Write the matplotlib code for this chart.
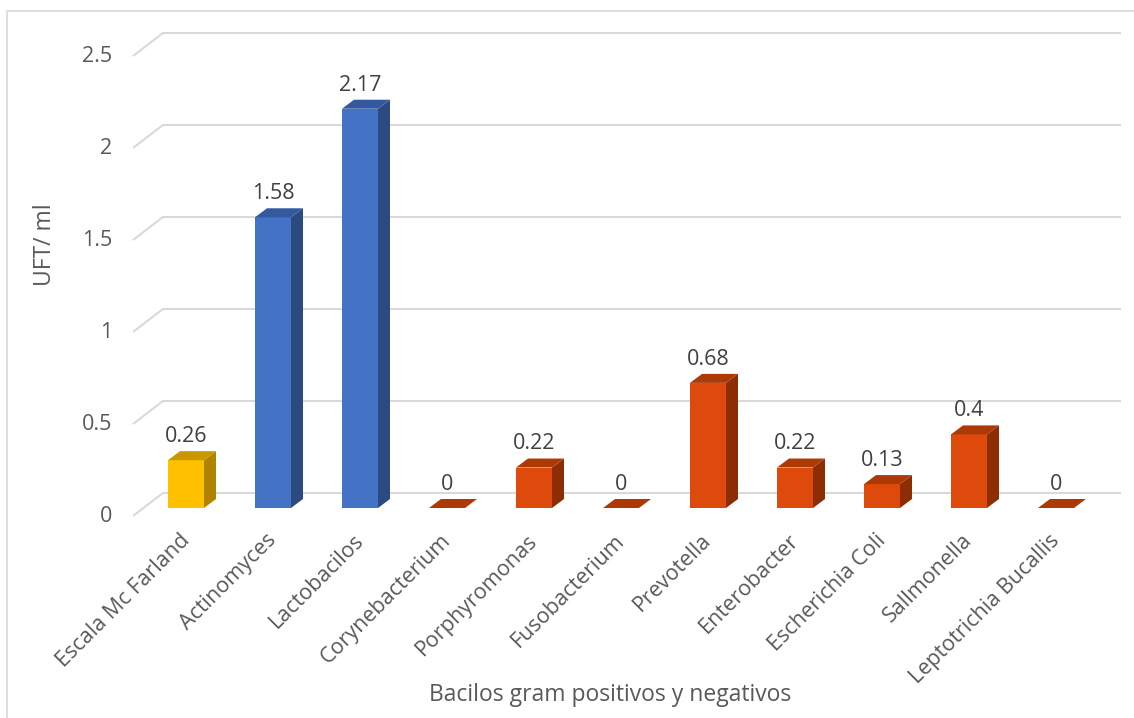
import matplotlib
matplotlib.use("Agg")
import matplotlib.pyplot as plt
from matplotlib.patches import Polygon, Rectangle

# ========================
# Data
# ========================
categories = ["Escala Mc Farland", "Actinomyces", "Lactobacilos", "Corynebacterium",
              "Porphyromonas", "Fusobacterium", "Prevotella", "Enterobacter",
              "Escherichia Coli", "Sallmonella", "Leptotrichia Bucallis"]
values = [0.26, 1.58, 2.17, 0, 0.22, 0, 0.68, 0.22, 0.13, 0.4, 0]
groups = ["ref", "pos", "pos", "neg", "neg", "neg", "neg", "neg", "neg", "neg", "neg"]
y_ticks = [0, 0.5, 1, 1.5, 2, 2.5]
y_tick_labels = ["0", "0.5", "1", "1.5", "2", "2.5"]

# front, side, top colours per group
COLORS = {
    "ref": ("#FFC000", "#B08400", "#C99700"),
    "pos": ("#4472C4", "#2B4A82", "#34599E"),
    "neg": ("#DE4A0B", "#8C2D03", "#AD3A06"),
}

# ========================
# Geometry (pixel -> data)
# ========================
W, H = 1134, 718
PX_X = 87.0    # pixels per category
PX_Y = 184.0   # pixels per unit
X0 = 186.0     # pixel x of first category
Y0 = 508.0     # pixel y (from top) of bar baseline

BAR_W = 36 / PX_X
DX = 12 / PX_X     # depth offset in x
DY = 9 / PX_Y      # depth offset in y
GRID_BACK_X = (163 - X0) / PX_X
GRID_FRONT_X = (133 - X0) / PX_X
GRID_RIGHT_X = (1121 - X0) / PX_X
GRID_BACK_DY = 15 / PX_Y
GRID_FRONT_DY = -8 / PX_Y

TEXT_C = "#595959"
GRID_C = "#D9D9D9"
FONT = "Open Sans"
FS = 15.5

fig = plt.figure(figsize=(W / 100, H / 100), dpi=100)
ax = fig.add_axes([0, 0, 1, 1])
ax.set_xlim(-X0 / PX_X, (W - X0) / PX_X)
ax.set_ylim(-(H - Y0) / PX_Y, Y0 / PX_Y)
ax.axis("off")

# chart border
fig.patches.append(Rectangle((7 / W, -0.01), 1.05, 1 - 11 / H + 0.01, transform=fig.transFigure,
                             fill=False, edgecolor="#D9D9D9", linewidth=1.2))

# gridlines: back wall + side diagonal
for v in y_ticks:
    ax.plot([GRID_FRONT_X, GRID_BACK_X, GRID_RIGHT_X],
            [v + GRID_FRONT_DY, v + GRID_BACK_DY, v + GRID_BACK_DY],
            color=GRID_C, linewidth=1.5, zorder=1, solid_capstyle="butt")

for v, lab in zip(y_ticks, y_tick_labels):
    ax.text((112 - X0) / PX_X, v + GRID_FRONT_DY, lab, ha="right", va="center",
            fontsize=FS, color=TEXT_C, family=FONT)

# bars
for i, (v, g) in enumerate(zip(values, groups)):
    front, side, top = COLORS[g]
    x1 = i - BAR_W / 2
    x2 = i + BAR_W / 2
    if v > 0:
        ax.bar(i, v, width=BAR_W, color=front, zorder=3, linewidth=0)
        ax.add_patch(Polygon([(x2, 0), (x2 + DX, DY), (x2 + DX, v + DY), (x2, v)],
                             closed=True, facecolor=side, edgecolor="none", zorder=3))
    ax.add_patch(Polygon([(x1, v), (x2, v), (x2 + DX, v + DY), (x1 + DX, v + DY)],
                         closed=True, facecolor=top, edgecolor="none", zorder=3))
    ax.annotate(f"{v:g}", (i, v + DY), xytext=(0, 3), textcoords="offset points",
                ha="center", va="bottom", fontsize=FS, color="#404040", family=FONT)

# category labels
for i, lab in enumerate(categories):
    ax.text(i - 7 / PX_X, -22 / PX_Y, lab, rotation=45, rotation_mode="anchor",
            ha="right", va="top", fontsize=15.5, color=TEXT_C, family=FONT)

# axis titles
ax.text((45 - X0) / PX_X, (Y0 - 245) / PX_Y, "UFT/ ml", rotation=90, ha="center", va="center",
        fontsize=16.5, color=TEXT_C, family=FONT)
ax.text((610 - X0) / PX_X, (Y0 - 695) / PX_Y, "Bacilos gram positivos y negativos",
        ha="center", va="center", fontsize=16.5, color=TEXT_C, family=FONT)

fig.savefig("out.png", dpi=100)
